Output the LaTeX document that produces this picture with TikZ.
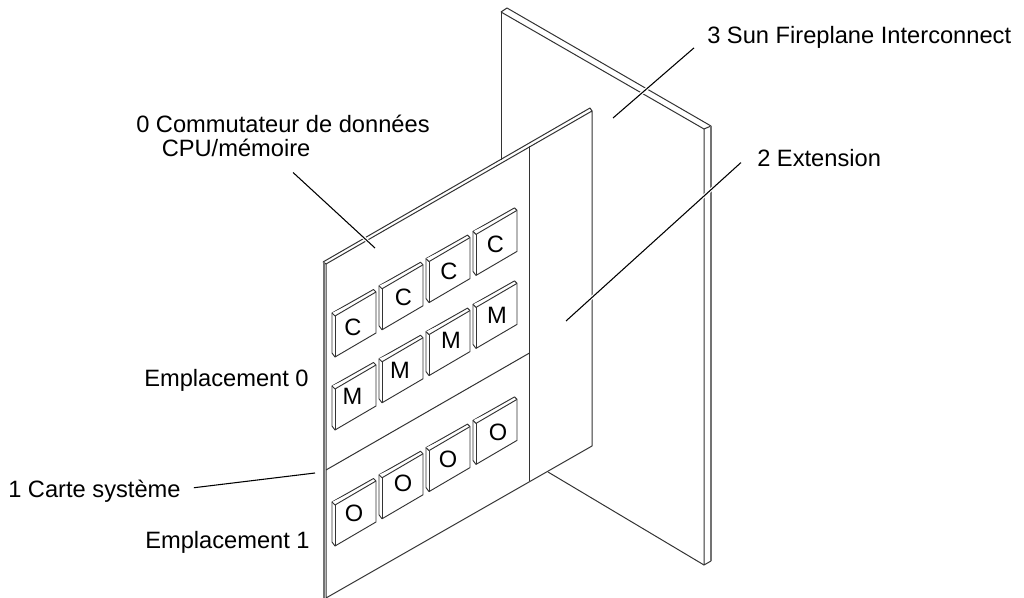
\documentclass[tikz,border=0pt]{standalone}
\usepackage{fontspec}
\setmainfont{Liberation Sans}
\usetikzlibrary{calc}

\begin{document}
\begin{tikzpicture}
  [
  x=0.75pt, y=-0.75pt,
  % plate
  plate/.style = {draw=black!80, line width=0.75pt, line join=round},
  % thick edge
  edge/.style = {draw=black!55, line width=1.1pt},
  % chip
  chip/.style = {draw=black!80, line width=0.7pt, fill=white, line join=round},
  % text
  txt/.style = {anchor=base west, inner sep=0pt, font=\fontsize{17.75pt}{20pt}\selectfont},
  chiptxt/.style = {inner sep=0pt, font=\fontsize{17.75pt}{20pt}\selectfont},
  % leader
  leader/.style = {draw=black, line width=0.8pt,
    preaction={draw=white, line width=2.5pt}},
  ]
  \useasboundingbox (0,0) rectangle (1024,598);

  % back plane
  \path [plate] (501,12) -- (704,129) -- (704,565) -- (711,561);
  \path [plate] (501,12) -- (507,8) -- (711,126) -- (704,129);
  \path [plate] (501,12) -- (501,160);
  \path [plate] (548,472) -- (704,565);
  \path [edge] (711,126) -- (711,561);

  % board
  \path [plate, fill=white] (326,264) -- (592,111) -- (592,446) -- (326,598) -- cycle;
  \path [plate] (323,262) -- (590,108) -- (592,111);
  \path [plate] (323,262) -- (326,264);
  \path [edge] (324,262) -- (324,598);
  \path [plate] (529.5,146) -- (529.5,481);
  \path [plate] (326,470) -- (529.5,353);

  % chips
  \foreach \row in {316, 389, 505} {
    \foreach \col in {0, 1, 2, 3} {
      \begin{scope}[shift={(335+47*\col, \row-27.2*\col)}]
        \path [chip] (-3,-3) -- (38.5,-26.5) -- (41,-24) -- (41,17) -- (0,41) -- (-3,37) -- cycle;
        \path [chip] (-3,-3) -- (0,0) -- (41,-24);
        \path [chip] (0,0) -- (0,41);
      \end{scope}
    }
  }

  % chip letters
  \node [chiptxt] (c0) at (353,327) {C};
  \node [chiptxt] (c1) at (403.5,297) {C};
  \node [chiptxt] (c2) at (449,271) {C};
  \node [chiptxt] (c3) at (495.5,244) {C};
  \node [chiptxt] (m0) at (352.5,396) {M};
  \node [chiptxt] (m1) at (400,370) {M};
  \node [chiptxt] (m2) at (451,340) {M};
  \node [chiptxt] (m3) at (497,315) {M};
  \node [chiptxt] (o0) at (354,513) {O};
  \node [chiptxt] (o1) at (403,483) {O};
  \node [chiptxt] (o2) at (448,459) {O};
  \node [chiptxt] (o3) at (498,432) {O};

  % labels
  \node [txt] (fireplane) at (707,44) {3 Sun Fireplane Interconnect};
  \node [txt] (extension) at (757,167) {2 Extension};
  \node [txt] (switch) at (136,133) {0 Commutateur de données};
  \node [txt] (cpumem) at (161.5,157) {CPU/mémoire};
  \node [txt] (slot0) at (144,386.5) {Emplacement 0};
  \node [txt] (card) at (8,497) {1 Carte système};
  \node [txt] (slot1) at (145,548) {Emplacement 1};

  % leader tips
  \coordinate (fireplaneTip) at (613,118);
  \coordinate (extensionTip) at (566,321);
  \coordinate (cpumemTip) at (375,248);
  \coordinate (cardTip) at (315,473);

  % path
  \path [leader] ([shift={(-13,10)}]fireplane.west) -- (fireplaneTip);
  \path [leader] ([shift={(-16,4)}]extension.west) -- (extensionTip);
  \path [leader] ([shift={(57,15)}]cpumem.south) -- (cpumemTip);
  \path [leader] ([shift={(13,-3)}]card.east) -- (cardTip);

\end{tikzpicture}
\end{document}
